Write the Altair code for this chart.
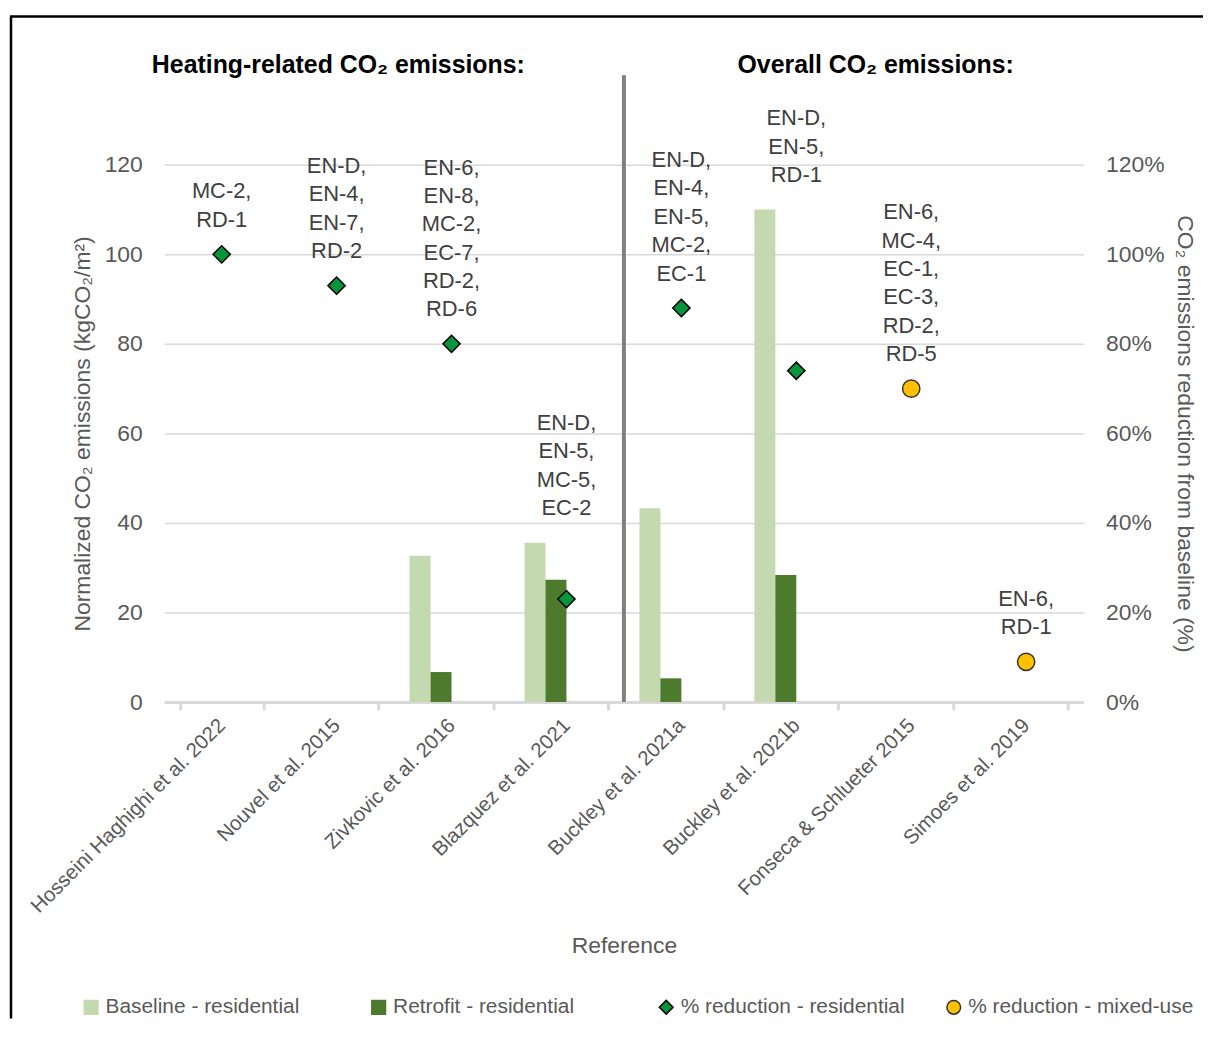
import altair as alt
import pandas as pd

refs = ["Hosseini Haghighi et al. 2022", "Nouvel et al. 2015", "Zivkovic et al. 2016",
        "Blazquez et al. 2021", "Buckley et al. 2021a", "Buckley et al. 2021b",
        "Fonseca & Schlueter 2015", "Simoes et al. 2019"]
baseline = [None, None, 32.7, 35.6, 43.3, 110.0, None, None]
retrofit = [None, None, 6.7, 27.3, 5.3, 28.4, None, None]
pct_res = [1.00, 0.93, 0.80, 0.23, 0.88, 0.74, None, None]
pct_mixed = [None, None, None, None, None, None, 0.70, 0.09]
measures = ["MC-2,\nRD-1", "EN-D,\nEN-4,\nEN-7,\nRD-2", "EN-6,\nEN-8,\nMC-2,\nEC-7,\nRD-2,\nRD-6",
            "EN-D,\nEN-5,\nMC-5,\nEC-2", "EN-D,\nEN-4,\nEN-5,\nMC-2,\nEC-1", "EN-D,\nEN-5,\nRD-1",
            "EN-6,\nMC-4,\nEC-1,\nEC-3,\nRD-2,\nRD-5", "EN-6,\nRD-1"]
series = ["Baseline - residential", "Retrofit - residential",
          "% reduction  - residential", "% reduction  - mixed-use"]
section_titles = ["Heating-related CO\u2082 emissions:", "Overall CO\u2082 emissions:"]

FONT = "Liberation Sans Narrow, Arial Narrow, Liberation Sans, Arial, sans-serif"
W, H = 924, 630
YMAX = 140
AXIS_TOP = 120
FS = 22
LINE_H = 28.5
GAP_PX = 27
colors = ["#c4d9b0", "#4e7a2e", "#07943b", "#ffc000"]
strokes = ["#c4d9b0", "#4e7a2e", "#000000", "#333333"]
shapes = ["square", "square", "diamond", "circle"]

bar_rows = []
for i, r in enumerate(refs):
    for slot, (s, vals) in enumerate([(series[0], baseline), (series[1], retrofit)]):
        if vals[i] is not None:
            bar_rows.append({"ref": r, "series": s, "slot": slot, "value": vals[i]})
bars_df = pd.DataFrame(bar_rows)

pt_rows = []
for i, r in enumerate(refs):
    if pct_res[i] is not None:
        pt_rows.append({"ref": r, "series": series[2], "pct": pct_res[i]})
    if pct_mixed[i] is not None:
        pt_rows.append({"ref": r, "series": series[3], "pct": pct_mixed[i]})
pts_df = pd.DataFrame(pt_rows)

# label block (baseline "top"): its top sits at "anchor" so that the last line ends above the marks
px_per_unit = H / YMAX
lab_rows = []
for i, r in enumerate(refs):
    cands = [v for v in (baseline[i], retrofit[i]) if v is not None]
    p = pct_res[i] if pct_res[i] is not None else pct_mixed[i]
    cands.append(p * 100)
    n = measures[i].count("\n") + 1
    block_px = GAP_PX + (n - 1) * LINE_H + 0.8 * FS
    lab_rows.append({"ref": r, "label": measures[i],
                     "anchor": max(cands) + block_px / px_per_unit})
lab_df = pd.DataFrame(lab_rows)

# axis titles are centred on the 0-120 tick range, as in the original
title_center_y = H - (AXIS_TOP / 2) * px_per_unit

xscale = alt.Scale(domain=refs, paddingInner=0.27, paddingOuter=0.135)
yleft = alt.Scale(domain=[0, YMAX], nice=False)
color_scale = alt.Scale(domain=series, range=colors)

x_axis = alt.Axis(title="Reference", labelAngle=315, labelAlign="right", labelBaseline="middle",
                  tickBand="extent", domainColor="#d9d9d9", domainWidth=3, tickColor="#d9d9d9",
                  tickWidth=3, tickSize=8, labelPadding=12, titlePadding=34, labelFontSize=20.5,
                  titleFontSize=23, labelColor="#595959", titleColor="#595959", grid=False,
                  labelFont=FONT, titleFont=FONT, titleFontWeight="normal", labelLimit=500)

bars = alt.Chart(bars_df).mark_bar().encode(
    x=alt.X("ref:N", scale=xscale, axis=x_axis, sort=refs),
    xOffset=alt.XOffset("slot:O", scale=alt.Scale(domain=[0, 1, 2, 3])),
    y=alt.Y("value:Q", scale=yleft,
            axis=alt.Axis(values=[0, 20, 40, 60, 80, 100, 120], grid=True, gridColor="#d9d9d9",
                          gridWidth=1.5, domain=False, ticks=False, labelPadding=22,
                          labelFontSize=23, labelColor="#595959", labelFont=FONT,
                          title="Normalized CO\u2082 emissions (kgCO\u2082/m\u00b2)",
                          titleFontSize=23, titleColor="#595959", titleFont=FONT,
                          titleFontWeight="normal", titlePadding=10, titleY=title_center_y)),
    color=alt.Color("series:N", scale=color_scale,
                    legend=alt.Legend(title=None, orient="none", legendX=-84, legendY=926,
                                      direction="horizontal", columns=4, gridAlign="all",
                                      columnPadding=31, labelFontSize=21, labelColor="#595959",
                                      labelFont=FONT, symbolSize=190, symbolStrokeWidth=1.5,
                                      labelOffset=4, labelLimit=400)),
)

labels = alt.Chart(lab_df).mark_text(lineBreak="\n", baseline="top", fontSize=FS,
                                     lineHeight=LINE_H, font=FONT, color="#404040").encode(
    x=alt.X("ref:N", scale=xscale, sort=refs),
    y=alt.Y("anchor:Q", scale=yleft),
    text="label:N",
)

divider = alt.Chart(pd.DataFrame({"d": [0]})).mark_rule(color="#808080", strokeWidth=4).encode(
    x=alt.value(W / 2), y=alt.value(0), y2=alt.value(H)
)

# figure frame (top and left edges)
frame_top = alt.Chart(pd.DataFrame({"d": [0]})).mark_rule(color="black", strokeWidth=2.5).encode(
    x=alt.value(-155), x2=alt.value(W + 120), y=alt.value(-59)
)
frame_left = alt.Chart(pd.DataFrame({"d": [0]})).mark_rule(color="black", strokeWidth=2.5).encode(
    x=alt.value(-154), y=alt.value(-59), y2=alt.value(H + 318)
)

left = alt.layer(bars, labels, divider, frame_top, frame_left)

points = alt.Chart(pts_df).mark_point(filled=True, size=300, opacity=1, strokeWidth=1.5).encode(
    x=alt.X("ref:N", scale=xscale, sort=refs),
    y=alt.Y("pct:Q", scale=alt.Scale(domain=[0, YMAX / 100], nice=False),
            axis=alt.Axis(orient="right", values=[0, 0.2, 0.4, 0.6, 0.8, 1.0, 1.2], format=".0%",
                          grid=False, domain=False, ticks=False, labelPadding=22,
                          labelFontSize=23, labelColor="#595959", labelFont=FONT,
                          title="CO\u2082 emissions reduction from baseline (%)",
                          titleFontSize=23, titleColor="#595959", titleFont=FONT,
                          titleFontWeight="normal", titlePadding=9, titleY=title_center_y)),
    color=alt.Color("series:N", scale=color_scale),
    shape=alt.Shape("series:N", scale=alt.Scale(domain=series, range=shapes)),
    stroke=alt.Stroke("series:N", scale=alt.Scale(domain=series, range=strokes)),
)

title_marks = [
    alt.Chart(pd.DataFrame({"t": [section_titles[0]]})).mark_text(
        fontSize=25, fontWeight="bold", font=FONT, color="black", baseline="middle").encode(
        x=alt.value(175), y=alt.value(-10), text="t:N"),
    alt.Chart(pd.DataFrame({"t": [section_titles[1]]})).mark_text(
        fontSize=25, fontWeight="bold", font=FONT, color="black", baseline="middle").encode(
        x=alt.value(715), y=alt.value(-10), text="t:N"),
]

chart = alt.layer(left, points, *title_marks).resolve_scale(y="independent").properties(
    width=W, height=H, padding={"left": 0, "top": 4, "right": 0, "bottom": 0},
    background="white"
).configure_view(stroke=None)

chart.save("out.html", embed_options={"renderer": "svg", "actions": False})
